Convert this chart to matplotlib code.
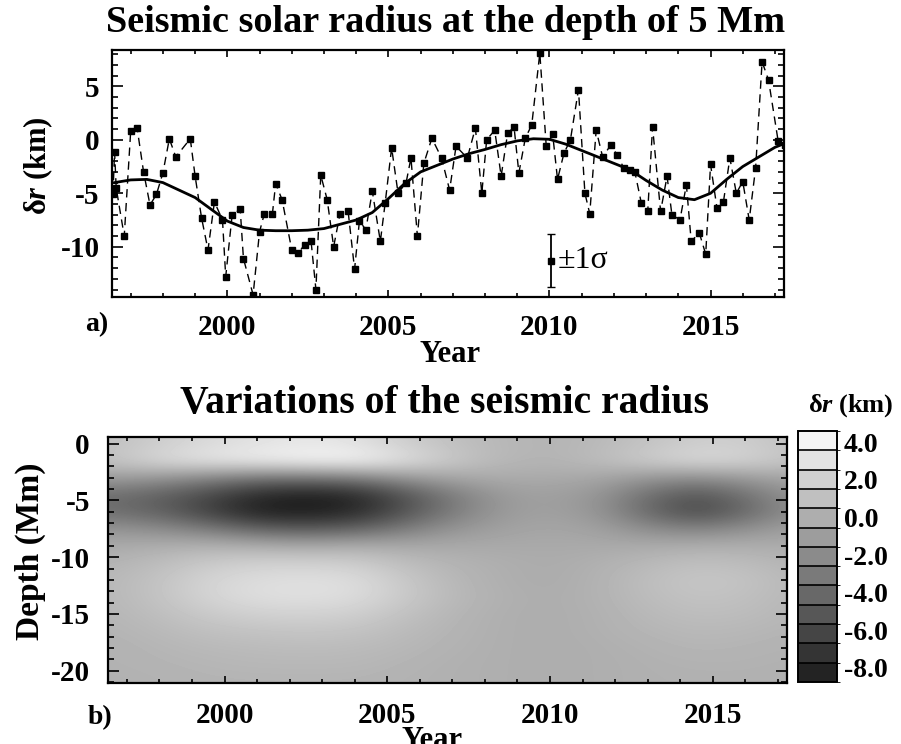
import numpy as np
import matplotlib
matplotlib.use("Agg")
import matplotlib.pyplot as plt
from matplotlib.colors import Normalize, ListedColormap, BoundaryNorm
from matplotlib.colorbar import ColorbarBase
from matplotlib.ticker import MultipleLocator, FixedLocator

plt.rcParams["font.family"] = ["Liberation Serif", "DejaVu Serif"]
plt.rcParams["font.weight"] = "bold"
plt.rcParams["axes.unicode_minus"] = False
plt.rcParams["mathtext.fontset"] = "custom"
plt.rcParams["mathtext.rm"] = "Liberation Serif:bold"
plt.rcParams["mathtext.it"] = "Liberation Serif:italic:bold"
plt.rcParams["mathtext.bf"] = "Liberation Serif:bold"

# ---- panel a: seismic radius at 5 Mm depth ----
obs_year = [1996.45, 1996.5, 1996.55, 1996.8, 1997.0, 1997.2, 1997.4, 1997.6, 1997.8,
            1998.0, 1998.2, 1998.4, 1998.85, 1999.0, 1999.2, 1999.4, 1999.6, 1999.85,
            1999.95, 2000.15, 2000.4, 2000.5, 2000.8, 2001.0, 2001.15, 2001.4, 2001.5,
            2001.7, 2002.0, 2002.2, 2002.4, 2002.6, 2002.75, 2002.9, 2003.1, 2003.3,
            2003.5, 2003.75, 2003.95, 2004.1, 2004.3, 2004.5, 2004.75, 2004.9, 2005.1,
            2005.3, 2005.55, 2005.7, 2005.9, 2006.1, 2006.35, 2006.65, 2006.9, 2007.1,
            2007.45, 2007.7, 2007.9, 2008.05, 2008.3, 2008.5, 2008.7, 2008.9, 2009.05,
            2009.25, 2009.45, 2009.7, 2009.9, 2010.1, 2010.25, 2010.45, 2010.65, 2010.9,
            2011.1, 2011.25, 2011.45, 2011.65, 2011.9, 2012.1, 2012.3, 2012.5, 2012.65,
            2012.85, 2013.05, 2013.2, 2013.45, 2013.65, 2013.8, 2014.05, 2014.25, 2014.4,
            2014.65, 2014.85, 2015.0, 2015.2, 2015.4, 2015.6, 2015.8, 2016.0, 2016.2,
            2016.4, 2016.6, 2016.8, 2017.1, 2017.3]
obs_dr = [-5.1, -1.1, -4.5, -9.0, 0.8, 1.1, -3.0, -6.1, -5.1,
          -3.1, 0.1, -1.6, 0.1, -3.4, -7.3, -10.3, -5.8, -7.5,
          -12.8, -7.0, -6.5, -11.1, -14.5, -8.6, -6.9, -6.9, -4.1,
          -5.6, -10.3, -10.6, -9.8, -9.5, -14.0, -3.3, -5.6, -10.0,
          -6.9, -6.7, -12.1, -7.6, -8.4, -4.8, -9.5, -5.9, -0.75,
          -5.0, -4.0, -1.7, -9.0, -2.2, 0.15, -1.7, -4.7, -0.6,
          -1.7, 1.1, -5.0, 0.0, 0.9, -3.4, 0.6, 1.2, -3.1,
          0.15, 1.4, 8.1, -0.6, 0.5, -3.7, -1.25, 0.0, 4.7,
          -5.0, -6.9, 0.9, -1.6, -0.5, -1.4, -2.6, -2.8, -3.0,
          -5.9, -6.7, 1.2, -6.7, -3.4, -7.0, -7.5, -4.2, -9.5,
          -8.7, -10.7, -2.3, -6.4, -5.8, -1.7, -5.0, -3.9, -7.5,
          -2.6, 7.3, 5.6, -0.15, -0.5]

fit_year = [1996.5, 1997.0, 1997.5, 1998.0, 1998.5, 1999.0, 1999.5, 2000.0, 2000.5,
            2001.0, 2001.5, 2002.0, 2002.5, 2003.0, 2003.5, 2004.0, 2004.5, 2005.0,
            2005.5, 2006.0, 2006.5, 2007.0, 2007.5, 2008.0, 2008.5, 2009.0, 2009.5,
            2010.0, 2010.5, 2011.0, 2011.5, 2012.0, 2012.5, 2013.0, 2013.5, 2014.0,
            2014.5, 2015.0, 2015.5, 2016.0, 2016.5, 2017.0, 2017.5]
fit_dr = [-4.0, -3.75, -3.7, -4.0, -4.7, -5.4, -6.5, -7.6, -8.2,
          -8.45, -8.5, -8.5, -8.45, -8.3, -7.9, -7.5, -6.8, -5.5,
          -4.1, -3.0, -2.4, -1.8, -1.3, -0.9, -0.45, -0.1, 0.1,
          0.05, -0.4, -1.0, -1.6, -2.2, -2.8, -3.8, -4.7, -5.4,
          -5.6, -5.0, -3.7, -2.5, -1.6, -0.7, -0.1]

sigma_year = 2010.04
sigma_dr = -11.3
sigma_err = 2.5

# ---- panel b: seismic radius variation vs depth and time ----
grid_year = [1996.5, 1998.0, 1999.5, 2001.0, 2002.5, 2004.0, 2005.5, 2007.0,
             2008.5, 2010.0, 2011.5, 2013.0, 2014.5, 2016.0, 2017.5]
grid_depth = [0.0, -1.5, -3.0, -4.5, -6.0, -7.5, -9.0, -10.5, -12.0,
              -13.5, -15.0, -16.5, -18.0, -19.5, -21.0]
grid_dr = [
    [1.0, 1.8, 2.5, 3.0, 3.3, 3.0, 1.8, 1.0, 0.5, 0.3, 0.6, 1.2, 1.8, 1.8, 1.0],
    [1.2, 2.5, 3.3, 3.8, 4.2, 4.3, 3.0, 1.5, 0.5, 0.3, 0.8, 1.8, 2.6, 2.2, 1.2],
    [-1.0, -1.5, -2.5, -3.5, -3.5, -3.0, -1.5, -0.5, -0.2, -0.3, -0.5, -1.5, -2.0, -1.2, -0.5],
    [-3.8, -4.6, -6.0, -7.8, -8.5, -8.0, -5.5, -3.0, -1.2, -0.8, -1.5, -3.8, -5.4, -3.6, -1.5],
    [-3.8, -4.6, -6.5, -8.5, -8.75, -8.0, -5.5, -3.0, -1.2, -0.8, -1.5, -4.2, -6.2, -4.2, -1.8],
    [-1.5, -2.0, -3.0, -4.5, -5.0, -4.5, -3.0, -1.5, -0.8, -0.5, -0.8, -2.0, -2.6, -1.8, -0.8],
    [-0.3, 0.0, 0.2, 0.0, -0.3, 0.0, -0.3, -0.3, -0.3, -0.3, -0.3, -0.2, 0.0, 0.0, -0.2],
    [0.3, 0.8, 1.6, 2.0, 2.0, 1.8, 0.9, 0.3, 0.0, -0.2, 0.1, 0.6, 1.0, 0.8, 0.3],
    [0.5, 1.2, 2.2, 2.7, 2.9, 2.7, 1.5, 0.5, 0.0, -0.2, 0.2, 0.9, 1.4, 1.2, 0.5],
    [0.5, 1.2, 2.2, 2.8, 2.9, 2.7, 1.6, 0.6, 0.1, -0.1, 0.2, 0.8, 1.2, 1.0, 0.5],
    [0.4, 0.9, 1.6, 2.0, 2.1, 1.9, 1.1, 0.4, 0.0, -0.1, 0.1, 0.6, 0.9, 0.8, 0.4],
    [0.3, 0.6, 1.0, 1.2, 1.3, 1.2, 0.7, 0.3, 0.0, -0.1, 0.1, 0.4, 0.6, 0.5, 0.3],
    [0.2, 0.4, 0.6, 0.7, 0.8, 0.7, 0.5, 0.2, 0.0, -0.1, 0.0, 0.2, 0.4, 0.3, 0.2],
    [0.2, 0.3, 0.4, 0.5, 0.5, 0.5, 0.3, 0.1, 0.0, -0.1, 0.0, 0.1, 0.2, 0.2, 0.1],
    [0.1, 0.2, 0.3, 0.3, 0.3, 0.3, 0.2, 0.1, 0.0, -0.1, 0.0, 0.1, 0.1, 0.1, 0.1],
]
cbar_levels = [-8.75, -7.72, -6.70, -5.67, -4.64, -3.62, -2.59, -1.56,
               -0.53, 0.49, 1.52, 2.55, 3.57, 4.60]
cbar_ticks = [-8.0, -6.0, -4.0, -2.0, 0.0, 2.0, 4.0]
year_ticks = [2000, 2005, 2010, 2015]

XLIM = (1996.42, 2017.28)

fig = plt.figure(figsize=(9.01, 7.44), dpi=100)
W, H = 901.0, 744.0


def frac(left, top, right, bottom):
    return [left / W, 1 - bottom / H, (right - left) / W, (bottom - top) / H]


def style_axes(ax, ypad, xpad):
    for s in ax.spines.values():
        s.set_linewidth(1.6)
    ax.tick_params(which="both", direction="in", top=True, right=True, width=1.2)
    ax.tick_params(axis="y", which="major", length=8, pad=ypad, labelsize=21)
    ax.tick_params(axis="y", which="minor", length=4)
    ax.tick_params(axis="x", which="major", length=5, pad=xpad, labelsize=21)
    ax.tick_params(axis="x", which="minor", length=3)
    ax.xaxis.set_major_locator(FixedLocator(year_ticks))
    ax.xaxis.set_minor_locator(MultipleLocator(1))
    for lab in ax.get_xticklabels() + ax.get_yticklabels():
        lab.set_fontweight("bold")


# top panel
ax1 = fig.add_axes(frac(112, 50, 784, 297))
ax1.plot(obs_year, obs_dr, color="black", lw=1.0, linestyle=(0, (6, 4)),
         marker="s", markersize=4.8, markerfacecolor="black", markeredgecolor="black")
ax1.plot(fit_year, fit_dr, color="black", lw=2.0)
ax1.errorbar([sigma_year], [sigma_dr], yerr=[sigma_err], fmt="s", color="black",
             markersize=4.8, capsize=3, lw=1.3)
ax1.text(sigma_year + 0.2, sigma_dr, "±1σ", fontsize=23, fontweight="normal",
         va="center", ha="left")
ax1.set_xlim(*XLIM)
ax1.set_ylim(-14.7, 8.4)
ax1.yaxis.set_major_locator(FixedLocator([-10, -5, 0, 5]))
ax1.yaxis.set_minor_locator(MultipleLocator(1))
style_axes(ax1, ypad=9, xpad=12)
fig.text(446 / W, 1 - 23 / H, "Seismic solar radius at the depth of 5 Mm",
         fontsize=27.5, fontweight="bold", ha="center", va="center")
fig.text(38 / W, 1 - 166 / H, "δ$r$ (km)", fontsize=22, fontweight="bold",
         rotation=90, ha="center", va="center")
fig.text(450 / W, 1 - 355 / H, "Year", fontsize=22, fontweight="bold",
         ha="center", va="center")
fig.text(97 / W, 1 - 325 / H, "a)", fontsize=20, fontweight="bold",
         ha="center", va="center")

# bottom panel
ax2 = fig.add_axes(frac(108, 437, 787, 683))
gray_norm = Normalize(vmin=-10.3, vmax=4.75)
dy = grid_year[1] - grid_year[0]
dd = grid_depth[0] - grid_depth[1]
ax2.imshow(np.array(grid_dr), cmap="gray", norm=gray_norm, interpolation="bicubic",
           aspect="auto", origin="upper",
           extent=(grid_year[0] - dy / 2, grid_year[-1] + dy / 2,
                   grid_depth[-1] - dd / 2, grid_depth[0] + dd / 2))
ax2.set_xlim(*XLIM)
ax2.set_ylim(-21.1, 0.6)
ax2.yaxis.set_major_locator(FixedLocator([-20, -15, -10, -5, 0]))
ax2.yaxis.set_minor_locator(MultipleLocator(1))
style_axes(ax2, ypad=13, xpad=14)
fig.text(445 / W, 1 - 404 / H, "Variations of the seismic radius",
         fontsize=28.5, fontweight="bold", ha="center", va="center")
fig.text(30 / W, 1 - 551 / H, "Depth (Mm)", fontsize=24, fontweight="bold",
         rotation=90, ha="center", va="center")
fig.text(432 / W, 1 - 741 / H, "Year", fontsize=22, fontweight="bold",
         ha="center", va="center")
fig.text(100 / W, 1 - 718 / H, "b)", fontsize=20, fontweight="bold",
         ha="center", va="center")

# colour bar with discrete bands
cax = fig.add_axes(frac(798, 431, 837, 682))
mids = [(a + b) / 2 for a, b in zip(cbar_levels[:-1], cbar_levels[1:])]
band_cmap = ListedColormap([plt.get_cmap("gray")(gray_norm(m)) for m in mids])
cb = ColorbarBase(cax, cmap=band_cmap, norm=BoundaryNorm(cbar_levels, band_cmap.N),
                  boundaries=cbar_levels, ticks=cbar_ticks, drawedges=True,
                  orientation="vertical")
cb.dividers.set_color("black")
cb.dividers.set_linewidth(1.2)
cb.outline.set_linewidth(1.4)
cax.tick_params(length=0, pad=5, labelsize=20)
cax.set_yticklabels(["%.1f" % t for t in cbar_ticks])
for lab in cax.get_yticklabels():
    lab.set_fontweight("bold")
fig.text(851 / W, 1 - 406 / H, "δ$r$ (km)", fontsize=19, fontweight="bold",
         ha="center", va="center")

fig.savefig("out.png", dpi=100)
